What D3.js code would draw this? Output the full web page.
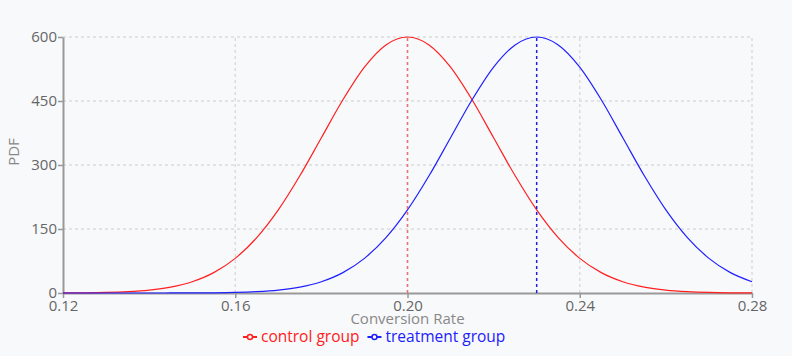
<!DOCTYPE html>
<html><head><meta charset="utf-8">
<script src="https://cdn.jsdelivr.net/npm/d3@7"></script>
<style>
html,body{margin:0;padding:0;background:#f8f9fb;}
svg{display:block;font-family:"Open Sans","Noto Sans",sans-serif;}
</style></head>
<body><svg id="c" width="792" height="356"></svg>
<script>
const xValues = [0.12,0.125,0.13,0.135,0.14,0.145,0.15,0.155,0.16,0.165,0.17,0.175,0.18,0.185,0.19,0.195,0.2,0.205,0.21,0.215,0.22,0.225,0.23,0.235,0.24,0.245,0.25,0.255,0.26,0.265,0.27,0.275,0.28];
const controlPdf = [0.2,0.5,1.3,3.1,6.7,13.7,26.4,47.7,81.2,129.8,194.8,274.7,363.9,452.9,529.5,581.5,600,581.5,529.5,452.9,363.9,274.7,194.8,129.8,81.2,47.7,26.4,13.7,6.7,3.1,1.3,0.5,0.2];
const treatmentPdf = [0,0,0,0,0.02,0.07,0.2,0.5,1.3,3.1,6.7,13.7,26.4,47.7,81.2,129.8,194.8,274.7,363.9,452.9,529.5,581.5,600,581.5,529.5,452.9,363.9,274.7,194.8,129.8,81.2,47.7,26.4];
const seriesNames = ["control group","treatment group"];
const seriesColors = ["#ff2020","#2020ff"];
const meanValues = [0.20,0.23];
const meanPeaks = [600,600];
const xTicks = [0.12,0.16,0.20,0.24,0.28];
const yTicks = [0,150,300,450,600];

const svg = d3.select("#c");
const m = {l:63, r:40, t:37, b:63};
const W = 792, H = 356;
const x = d3.scaleLinear().domain([0.12,0.28]).range([m.l, W-m.r]);
const y = d3.scaleLinear().domain([0,600]).range([H-m.b, m.t]);

// grid
const grid = svg.append("g");
grid.selectAll(".hg").data(yTicks.filter(d=>d>0)).join("line")
  .attr("x1", x(0.12)).attr("x2", x(0.28)).attr("y1", d=>y(d)).attr("y2", d=>y(d))
  .attr("stroke","#dcdcdc").attr("stroke-width",1.5).attr("stroke-dasharray","3,3");
grid.selectAll(".vg").data(xTicks.filter(d=>d>0.12)).join("line")
  .attr("x1", d=>x(d)).attr("x2", d=>x(d)).attr("y1", y(0)).attr("y2", y(600))
  .attr("stroke","#dcdcdc").attr("stroke-width",1.5).attr("stroke-dasharray","3,3");

// axes
const xAxis = svg.append("g").attr("transform",`translate(0,${y(0)})`)
  .call(d3.axisBottom(x).tickValues(xTicks).tickFormat(d3.format(".2f")).tickSize(5).tickSizeOuter(0));
const yAxis = svg.append("g").attr("transform",`translate(${x(0.12)},0)`)
  .call(d3.axisLeft(y).tickValues(yTicks).tickFormat(d3.format("d")).tickSize(5).tickSizeOuter(0));
[xAxis,yAxis].forEach(a=>{
  a.select(".domain").attr("stroke","#999").attr("stroke-width",2);
  a.selectAll(".tick line").attr("stroke","#999").attr("stroke-width",1.5);
  a.selectAll(".tick text").attr("fill","#666").style("font-size","15px").style("font-family","'Open Sans','Noto Sans',sans-serif");
});
xAxis.selectAll(".tick text").attr("dy","0.9em").attr("y",4);
yAxis.selectAll(".tick text").attr("x",-6);

svg.append("text").attr("x",(x(0.12)+x(0.28))/2).attr("y",324).attr("text-anchor","middle")
  .attr("fill","#888").style("font-size","15px").text("Conversion Rate");
svg.append("text").attr("transform",`translate(19,152) rotate(-90)`).attr("text-anchor","middle")
  .attr("fill","#888").style("font-size","15px").text("PDF");

// curves
const line = d3.line().x(d=>x(d[0])).y(d=>y(d[1])).curve(d3.curveMonotoneX);
[controlPdf, treatmentPdf].forEach((vals,i)=>{
  svg.append("path").datum(xValues.map((xv,j)=>[xv, vals[j]]))
    .attr("d", line).attr("fill","none").attr("stroke",seriesColors[i]).attr("stroke-width",1.2);
});
// mean lines
meanValues.forEach((mv,i)=>{
  svg.append("line").attr("x1",x(mv)).attr("x2",x(mv)).attr("y1",y(0)).attr("y2",y(meanPeaks[i]))
    .attr("stroke", i===0 ? "#f07070" : "#2020e0").attr("stroke-width",1.5).attr("stroke-dasharray","3,3");
});

// legend
const lg = svg.append("g").attr("transform","translate(243,337)");
let off = 0;
seriesNames.forEach((n,i)=>{
  const g = lg.append("g").attr("transform",`translate(${off},0)`);
  g.append("line").attr("x1",0).attr("x2",14).attr("y1",0).attr("y2",0).attr("stroke",seriesColors[i]).attr("stroke-width",2);
  g.append("circle").attr("cx",7).attr("cy",0).attr("r",2.5).attr("fill","#fff").attr("stroke",seriesColors[i]).attr("stroke-width",1.5);
  const t = g.append("text").attr("x",18).attr("y",5).attr("fill",seriesColors[i]).style("font-size","15.5px").text(n);
  off += 18 + t.node().getComputedTextLength() + 8;
});
</script></body></html>
